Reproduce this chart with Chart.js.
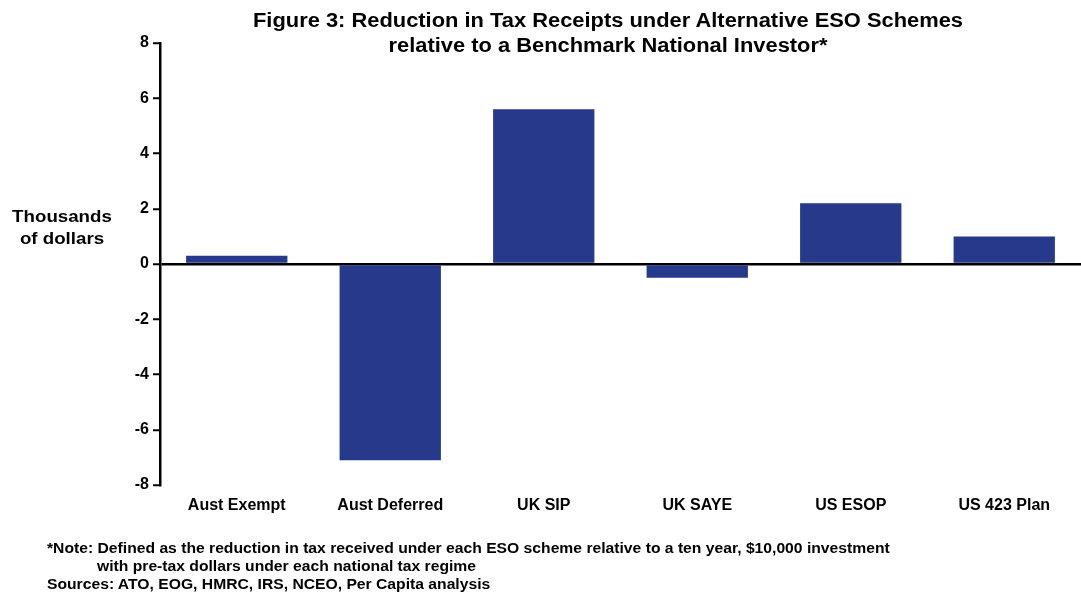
<!DOCTYPE html>
<html>
<head>
<meta charset="utf-8">
<script src="https://cdn.jsdelivr.net/npm/chart.js@4.4.0/dist/chart.umd.min.js"></script>
<style>
  html, body { margin: 0; padding: 0; background: #fff; }
  body { width: 1081px; height: 598px; position: relative; overflow: hidden;
         font-family: "Liberation Sans", Arial, sans-serif; font-weight: bold; color: #000; }
  #wrap { position: absolute; left: 0; top: 0; width: 1081px; height: 598px; }
  .title { position: absolute; left: 108px; width: 1000px; text-align: center; font-size: 20px; top: 8px; line-height: 25px;
           transform: scaleX(1.094); transform-origin: 50% 0; }
  .ylab { position: absolute; left: 2px; top: 206px; font-size: 17px; line-height: 22px; text-align: center; width: 120px;
          transform: scaleX(1.1); transform-origin: 50% 0; }
  .note { position: absolute; left: 47px; font-size: 14px; line-height: 18px; white-space: nowrap;
          transform: scaleX(1.12); transform-origin: 0 0; }
</style>
</head>
<body>
<div id="wrap"><canvas id="chart" width="1081" height="598"></canvas></div>
<div class="title">Figure 3: Reduction in Tax Receipts under Alternative ESO Schemes<br>relative to a Benchmark National Investor*</div>
<div class="ylab">Thousands<br>of dollars</div>
<div class="note" style="top:539px">*Note: Defined as the reduction in tax received under each ESO scheme relative to a ten year, $10,000 investment</div>
<div class="note" style="top:557px;left:97px">with pre-tax dollars under each national tax regime</div>
<div class="note" style="top:575px">Sources: ATO, EOG, HMRC, IRS, NCEO, Per Capita analysis</div>
<script>
// Datos del gráfico
const categorias = ['Aust Exempt', 'Aust Deferred', 'UK SIP', 'UK SAYE', 'US ESOP', 'US 423 Plan'];
const valores = [0.3, -7.1, 5.6, -0.5, 2.2, 1.0];
const ticksY = [-8, -6, -4, -2, 0, 2, 4, 6, 8];

const fuente = { family: 'Liberation Sans', weight: 'bold', size: 16 };

const ctx = document.getElementById('chart');
new Chart(ctx, {
  type: 'bar',
  data: {
    labels: categorias,
    datasets: [{
      data: valores,
      backgroundColor: '#27398b',
      barPercentage: 0.66,
      categoryPercentage: 1
    }]
  },
  options: {
    responsive: false,
    animation: false,
    layout: { padding: { left: 0, right: 0, top: 43, bottom: 73 } },
    plugins: { legend: { display: false }, title: { display: false }, tooltip: { enabled: false } },
    scales: {
      x: {
        grid: { display: false, drawTicks: false },
        border: { display: false },
        ticks: { color: '#000', font: fuente, padding: 11, maxRotation: 0 },
        afterFit: function(axis) { axis.height = 40; }
      },
      y: {
        min: -8,
        max: 8,
        afterBuildTicks: function(axis) { axis.ticks = ticksY.map(v => ({ value: v })); },
        grid: {
          color: function(c) { return c.tick && c.tick.value === 0 ? '#000' : 'rgba(0,0,0,0)'; },
          lineWidth: 2.5,
          tickColor: '#000',
          tickLength: 7,
          tickWidth: 2
        },
        border: { color: '#000', width: 2.5 },
        ticks: { color: '#000', font: fuente, padding: 4 },
        afterFit: function(axis) { axis.width = 160; }
      }
    }
  }
});
</script>
</body>
</html>
